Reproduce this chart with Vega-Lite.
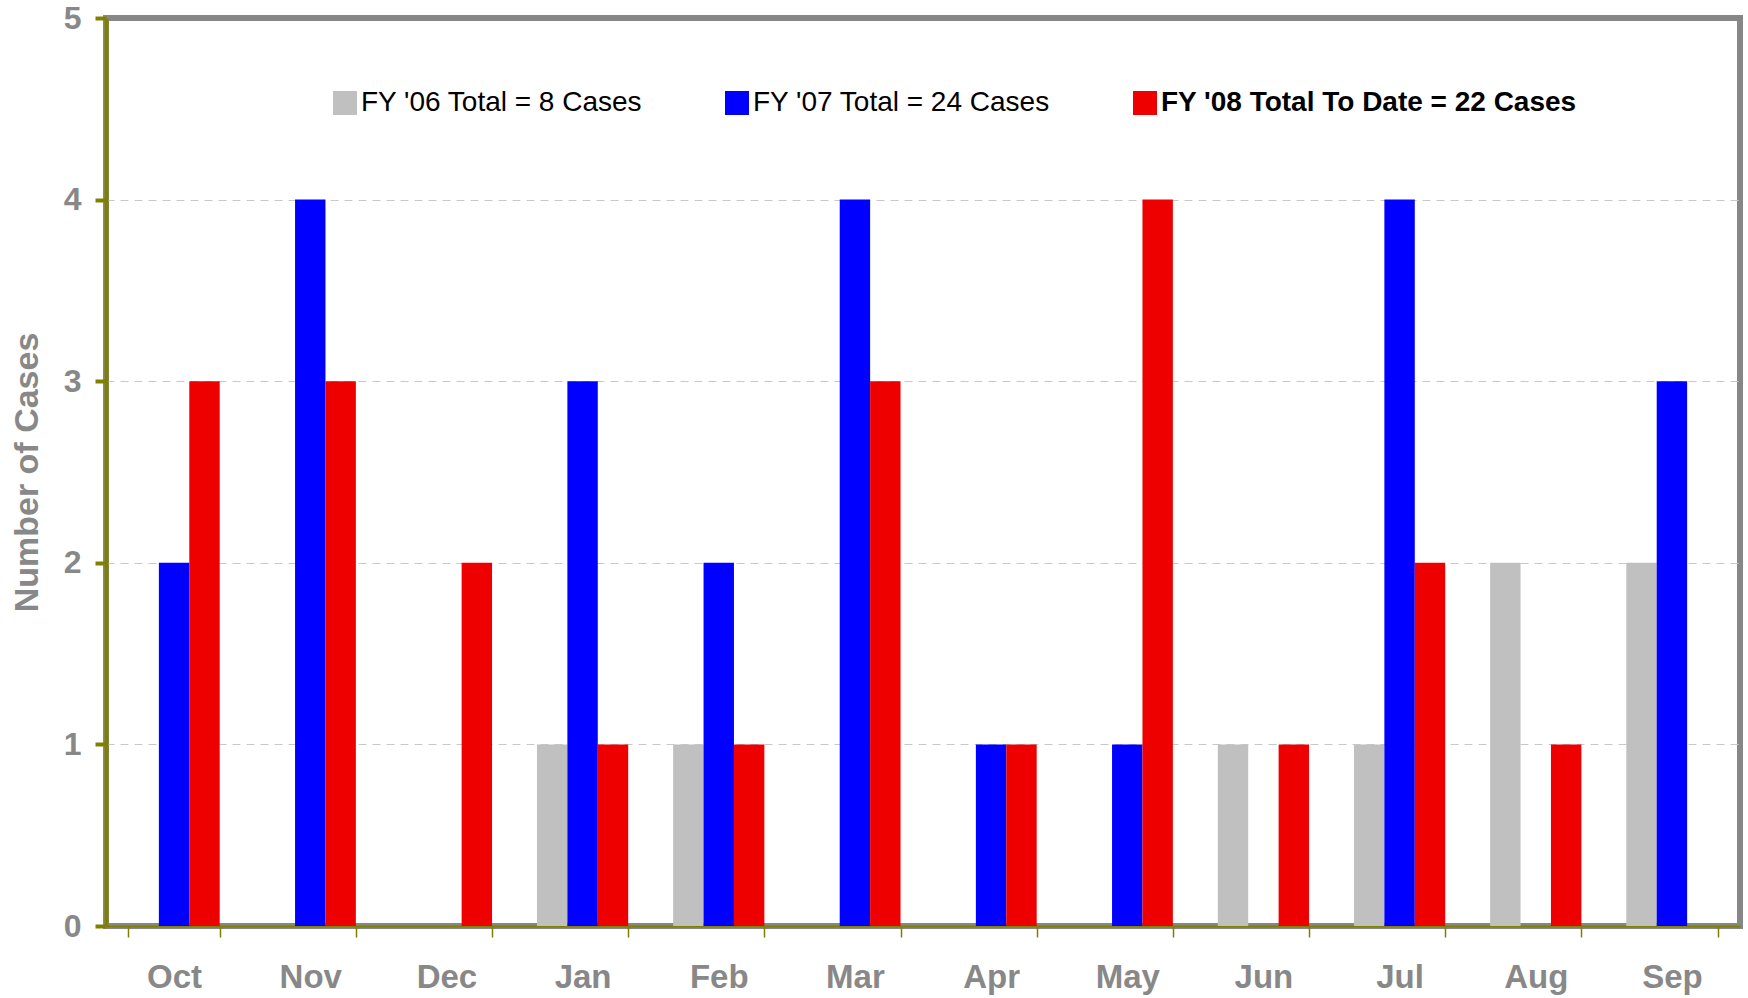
{
  "$schema": "https://vega.github.io/schema/vega-lite/v6.json",
  "width": 1634,
  "height": 908,
  "autosize": {"type": "none"},
  "padding": {"left": 106, "top": 18, "right": 8, "bottom": 72},
  "background": "white",
  "config": {
    "view": {"stroke": "#878787", "strokeWidth": 6},
    "font": "Liberation Sans"
  },
  "data": {
    "values": [
      {"month": "Oct", "series": "FY '06 Total = 8 Cases", "cases": 0},
      {"month": "Oct", "series": "FY '07 Total = 24 Cases", "cases": 2},
      {"month": "Oct", "series": "FY '08 Total To Date = 22 Cases", "cases": 3},
      {"month": "Nov", "series": "FY '06 Total = 8 Cases", "cases": 0},
      {"month": "Nov", "series": "FY '07 Total = 24 Cases", "cases": 4},
      {"month": "Nov", "series": "FY '08 Total To Date = 22 Cases", "cases": 3},
      {"month": "Dec", "series": "FY '06 Total = 8 Cases", "cases": 0},
      {"month": "Dec", "series": "FY '07 Total = 24 Cases", "cases": 0},
      {"month": "Dec", "series": "FY '08 Total To Date = 22 Cases", "cases": 2},
      {"month": "Jan", "series": "FY '06 Total = 8 Cases", "cases": 1},
      {"month": "Jan", "series": "FY '07 Total = 24 Cases", "cases": 3},
      {"month": "Jan", "series": "FY '08 Total To Date = 22 Cases", "cases": 1},
      {"month": "Feb", "series": "FY '06 Total = 8 Cases", "cases": 1},
      {"month": "Feb", "series": "FY '07 Total = 24 Cases", "cases": 2},
      {"month": "Feb", "series": "FY '08 Total To Date = 22 Cases", "cases": 1},
      {"month": "Mar", "series": "FY '06 Total = 8 Cases", "cases": 0},
      {"month": "Mar", "series": "FY '07 Total = 24 Cases", "cases": 4},
      {"month": "Mar", "series": "FY '08 Total To Date = 22 Cases", "cases": 3},
      {"month": "Apr", "series": "FY '06 Total = 8 Cases", "cases": 0},
      {"month": "Apr", "series": "FY '07 Total = 24 Cases", "cases": 1},
      {"month": "Apr", "series": "FY '08 Total To Date = 22 Cases", "cases": 1},
      {"month": "May", "series": "FY '06 Total = 8 Cases", "cases": 0},
      {"month": "May", "series": "FY '07 Total = 24 Cases", "cases": 1},
      {"month": "May", "series": "FY '08 Total To Date = 22 Cases", "cases": 4},
      {"month": "Jun", "series": "FY '06 Total = 8 Cases", "cases": 1},
      {"month": "Jun", "series": "FY '07 Total = 24 Cases", "cases": 0},
      {"month": "Jun", "series": "FY '08 Total To Date = 22 Cases", "cases": 1},
      {"month": "Jul", "series": "FY '06 Total = 8 Cases", "cases": 1},
      {"month": "Jul", "series": "FY '07 Total = 24 Cases", "cases": 4},
      {"month": "Jul", "series": "FY '08 Total To Date = 22 Cases", "cases": 2},
      {"month": "Aug", "series": "FY '06 Total = 8 Cases", "cases": 2},
      {"month": "Aug", "series": "FY '07 Total = 24 Cases", "cases": 0},
      {"month": "Aug", "series": "FY '08 Total To Date = 22 Cases", "cases": 1},
      {"month": "Sep", "series": "FY '06 Total = 8 Cases", "cases": 2},
      {"month": "Sep", "series": "FY '07 Total = 24 Cases", "cases": 3},
      {"month": "Sep", "series": "FY '08 Total To Date = 22 Cases", "cases": 0}
    ]
  },
  "mark": {"type": "bar"},
  "encoding": {
    "x": {
      "field": "month",
      "type": "nominal",
      "sort": null,
      "scale": {"paddingInner": 0.33, "paddingOuter": 0.165},
      "axis": {
        "title": null,
        "labelAngle": 0,
        "labelFont": "Liberation Sans",
        "labelFontSize": 33,
        "labelFontWeight": "bold",
        "labelColor": "#888888",
        "labelPadding": 24,
        "tickBand": "extent",
        "tickColor": "#808000",
        "tickSize": 11,
        "tickWidth": 1.5,
        "domainColor": "#808000",
        "domainWidth": 2
      }
    },
    "xOffset": {
      "field": "series",
      "type": "nominal",
      "sort": null,
      "scale": {"paddingInner": 0, "paddingOuter": 0}
    },
    "y": {
      "field": "cases",
      "type": "quantitative",
      "scale": {"domain": [0, 5]},
      "axis": {
        "title": "Number of Cases",
        "titleFont": "Liberation Sans",
        "titleFontSize": 34,
        "titleFontWeight": "bold",
        "titleColor": "#888888",
        "titlePadding": 19,
        "values": [0, 1, 2, 3, 4, 5],
        "labelFont": "Liberation Sans",
        "labelFontSize": 32,
        "labelFontWeight": "bold",
        "labelColor": "#888888",
        "labelPadding": 14,
        "tickColor": "#808000",
        "tickSize": 11,
        "tickWidth": 4,
        "domainColor": "#808000",
        "domainWidth": 4,
        "grid": true,
        "gridColor": "#c8c8c8",
        "gridDash": [8, 6],
        "gridWidth": 1,
        "gridOpacity": {"condition": {"test": "datum.value == 0 || datum.value == 5", "value": 0}, "value": 1}
      }
    },
    "color": {
      "field": "series",
      "type": "nominal",
      "sort": null,
      "scale": {
        "domain": ["FY '06 Total = 8 Cases", "FY '07 Total = 24 Cases", "FY '08 Total To Date = 22 Cases"],
        "range": ["#c0c0c0", "#0000ff", "#ee0000"]
      },
      "legend": {
        "title": null,
        "orient": "none",
        "direction": "horizontal",
        "legendX": 225,
        "legendY": 71,
        "symbolType": "square",
        "symbolSize": 576,
        "symbolStrokeWidth": 0,
        "symbolOpacity": 1,
        "labelFont": "Liberation Sans",
        "labelFontSize": 28,
        "labelColor": "#000000",
        "labelOffset": 2,
        "labelLimit": 700,
        "columnPadding": 80,
        "encode": {
          "labels": {
            "update": {
              "fontWeight": {"signal": "indexof(datum.label, '08') >= 0 ? 'bold' : 'normal'"}
            }
          }
        }
      }
    }
  }
}
